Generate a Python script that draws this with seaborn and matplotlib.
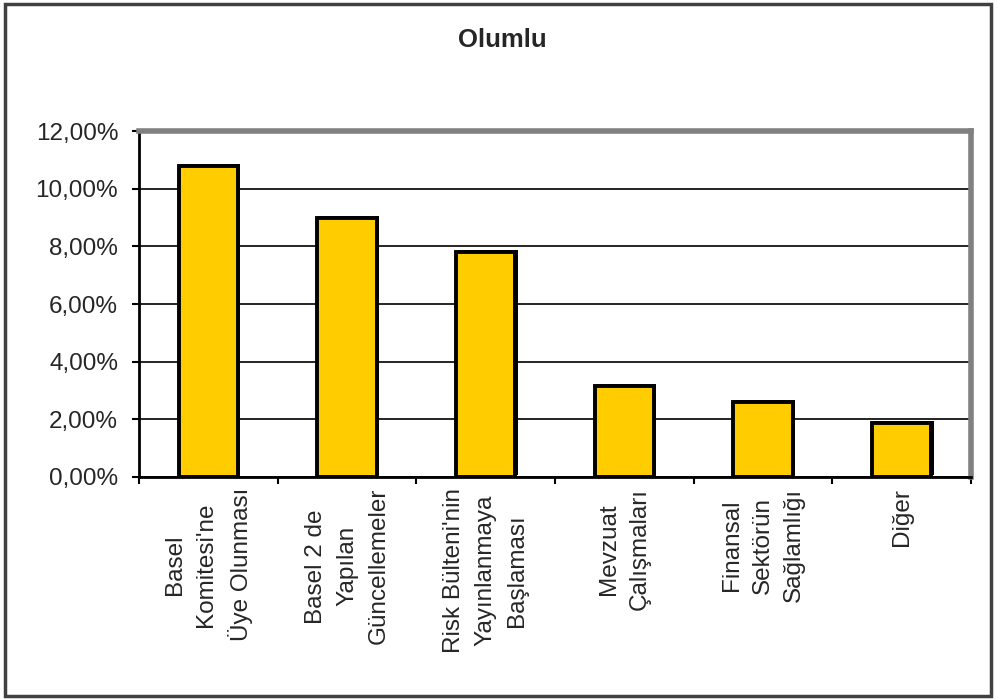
import matplotlib
matplotlib.use("Agg")
import matplotlib.pyplot as plt
import matplotlib.patheffects as pe
from matplotlib.patches import Rectangle
from matplotlib.ticker import FixedLocator, FuncFormatter
import seaborn as sns
import pandas as pd

categories = [
    "Basel\nKomitesi'ne\nÜye Olunması",
    "Basel 2 de\nYapılan\nGüncellemeler",
    "Risk Bülteni'nin\nYayınlanmaya\nBaşlaması",
    "Mevzuat\nÇalışmaları",
    "Finansal\nSektörün\nSağlamlığı",
    "Diğer",
]
values = [10.8, 8.97, 7.8, 3.15, 2.6, 1.87]
y_ticks = [0, 2, 4, 6, 8, 10, 12]
title = "Olumlu"

sns.set_theme(style="white")
plt.rcParams["font.family"] = ["Liberation Sans", "DejaVu Sans"]

df = pd.DataFrame({"cat": categories, "val": values})

fig = plt.figure(figsize=(9.98, 6.99), dpi=100)
ax = fig.add_axes([139 / 998, 1 - 477 / 699, (971 - 139) / 998, (477 - 131) / 699])

sns.barplot(data=df, x="cat", y="val", color="#FFCC00", width=0.43,
            edgecolor="black", linewidth=2.8, saturation=1, ax=ax, zorder=3)
for p in ax.patches:
    p.set_path_effects([pe.SimplePatchShadow(offset=(1.5, 1.5), shadow_rgbFace="black", alpha=1.0),
                        pe.Normal()])

ax.set_xlim(-0.5, len(categories) - 0.5)
ax.set_ylim(0, 12)
ax.set_yticks(y_ticks)
ax.yaxis.set_major_formatter(FuncFormatter(lambda v, _: f"{v:.2f}%".replace(".", ",")))
ax.grid(axis="y", color="black", linewidth=1.2, zorder=0)
ax.grid(axis="x", visible=False)
ax.set_axisbelow(True)

ax.xaxis.set_minor_locator(FixedLocator([i - 0.5 for i in range(len(categories) + 1)]))
ax.tick_params(axis="x", which="major", length=0, pad=8)
ax.tick_params(axis="x", which="minor", length=5, width=1.5, color="black", direction="out", bottom=True)
ax.tick_params(axis="y", which="major", length=5, width=1.5, color="black", direction="out", left=True, pad=10)
ax.set_xticks(range(len(categories)))
ax.set_xticklabels(categories, rotation=90, ha="center", va="top", fontsize=17.5,
                   multialignment="center", linespacing=1.55)
for lab in ax.get_yticklabels():
    lab.set_fontsize(17.5)
ax.set_xlabel("")
ax.set_ylabel("")

for side in ["top", "right"]:
    ax.spines[side].set_color("#808080")
    ax.spines[side].set_linewidth(4)
for side in ["left", "bottom"]:
    ax.spines[side].set_color("black")
    ax.spines[side].set_linewidth(2)

fig.text(502 / 998, 1 - 40 / 699, title, ha="center", va="center", fontsize=18.5, fontweight="bold")

fig.patches.append(Rectangle((5 / 998, 3 / 699), (991 - 5) / 998, (695 - 3) / 699,
                             transform=fig.transFigure, fill=False, edgecolor="#404040",
                             linewidth=2.5))

fig.savefig("out.png", dpi=100, facecolor="white")
